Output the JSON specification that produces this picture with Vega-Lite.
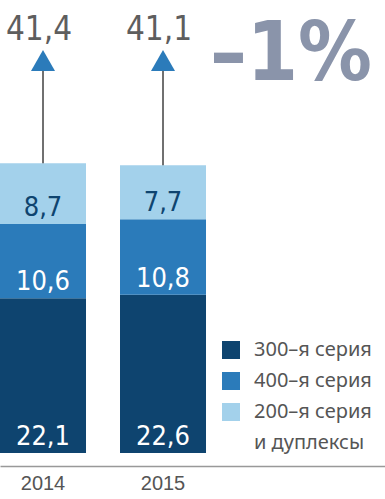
{
  "$schema": "https://vega.github.io/schema/vega-lite/v6.json",
  "width": 385,
  "height": 453,
  "autosize": {"type": "none"},
  "padding": {"top": 0, "left": 0, "right": 0, "bottom": 46},
  "background": "white",
  "config": {
    "view": {"stroke": null},
    "style": {"guide-label": {"lineHeight": 31}},
    "locale": {"number": {"decimal": ",", "thousands": "\u00a0", "grouping": [3], "currency": ["", ""]}}
  },
  "data": {
    "values": [
      {"year": "2014", "series": "300–я серия", "order": 1, "value": 22.1},
      {"year": "2014", "series": "400–я серия", "order": 2, "value": 10.6},
      {"year": "2014", "series": "200–я серия и дуплексы", "order": 3, "value": 8.7},
      {"year": "2015", "series": "300–я серия", "order": 1, "value": 22.6},
      {"year": "2015", "series": "400–я серия", "order": 2, "value": 10.8},
      {"year": "2015", "series": "200–я серия и дуплексы", "order": 3, "value": 7.7}
    ]
  },
  "encoding": {
    "x": {
      "field": "year",
      "type": "nominal",
      "scale": {"paddingInner": 0.2833, "paddingOuter": 0.7458, "align": 0},
      "axis": {
        "title": null,
        "ticks": false,
        "domainColor": "#999999",
        "domainWidth": 1.5,
        "offset": 13,
        "labelFont": "Liberation Sans, sans-serif",
        "labelFontSize": 20,
        "labelColor": "#555555",
        "labelPadding": 7,
        "labelAngle": 0,
        "labelBaseline": "top"
      }
    }
  },
  "layer": [
    {
      "transform": [
        {"stack": "value", "groupby": ["year"], "sort": [{"field": "order", "order": "ascending"}], "as": ["v0", "v1"]}
      ],
      "layer": [
        {
          "mark": {"type": "bar"},
          "encoding": {
            "y": {"field": "v0", "type": "quantitative", "scale": {"domain": [0, 64.71], "nice": false, "zero": true}, "axis": null},
            "y2": {"field": "v1"},
            "color": {
              "field": "series",
              "type": "nominal",
              "scale": {
                "domain": ["300–я серия", "400–я серия", "200–я серия и дуплексы"],
                "range": ["#0e446f", "#2b7bba", "#a3d1eb"]
              },
              "legend": {
                "orient": "none",
                "legendX": 221,
                "legendY": 340,
                "title": null,
                "padding": 0,
                "symbolType": "square",
                "symbolSize": 324,
                "symbolStrokeWidth": 0,
                "symbolOpacity": 1,
                "labelFont": "Noto Sans",
                "labelFontSize": 20,
                "labelColor": "#555555",
                "labelOffset": 13,
                "rowPadding": 11,
                "labelLimit": 200,
                "labelExpr": "datum.label == '200–я серия и дуплексы' ? ['200–я серия', 'и дуплексы'] : datum.label"
              }
            }
          }
        },
        {
          "mark": {"type": "text", "baseline": "alphabetic", "dy": -8, "font": "DejaVu Sans Condensed, sans-serif", "fontSize": 27},
          "encoding": {
            "y": {"field": "v0", "type": "quantitative"},
            "text": {"field": "value", "type": "quantitative", "format": ".1f"},
            "color": {
              "condition": {"test": "datum.series === '200–я серия и дуплексы'", "value": "#0e446f"},
              "value": "white"
            }
          }
        }
      ]
    },
    {
      "transform": [
        {"aggregate": [{"op": "sum", "field": "value", "as": "total"}], "groupby": ["year"]}
      ],
      "layer": [
        {
          "mark": {"type": "rule", "color": "#111111", "strokeWidth": 1.2},
          "encoding": {
            "y": {"field": "total", "type": "quantitative"},
            "y2": {"datum": 56}
          }
        },
        {
          "mark": {"type": "point", "shape": "triangle-up", "filled": true, "size": 576, "opacity": 1, "color": "#2b7bba"},
          "encoding": {
            "y": {"datum": 56.07, "type": "quantitative"}
          }
        },
        {
          "mark": {"type": "text", "baseline": "alphabetic", "dx": -4, "font": "DejaVu Sans Condensed, sans-serif", "fontSize": 33, "color": "#5e5e5e"},
          "encoding": {
            "y": {"datum": 59, "type": "quantitative"},
            "text": {"field": "total", "type": "quantitative", "format": ".1f"}
          }
        }
      ]
    },
    {
      "data": {"values": [{"change": "–1%"}]},
      "mark": {"type": "text", "align": "right", "baseline": "alphabetic", "dx": 209, "font": "DejaVu Sans Condensed, sans-serif", "fontSize": 82, "fontWeight": "bold", "color": "#8a94aa"},
      "encoding": {
        "x": {"datum": "2015"},
        "y": {"datum": 53.3, "type": "quantitative"},
        "text": {"field": "change", "type": "nominal"}
      }
    }
  ]
}
